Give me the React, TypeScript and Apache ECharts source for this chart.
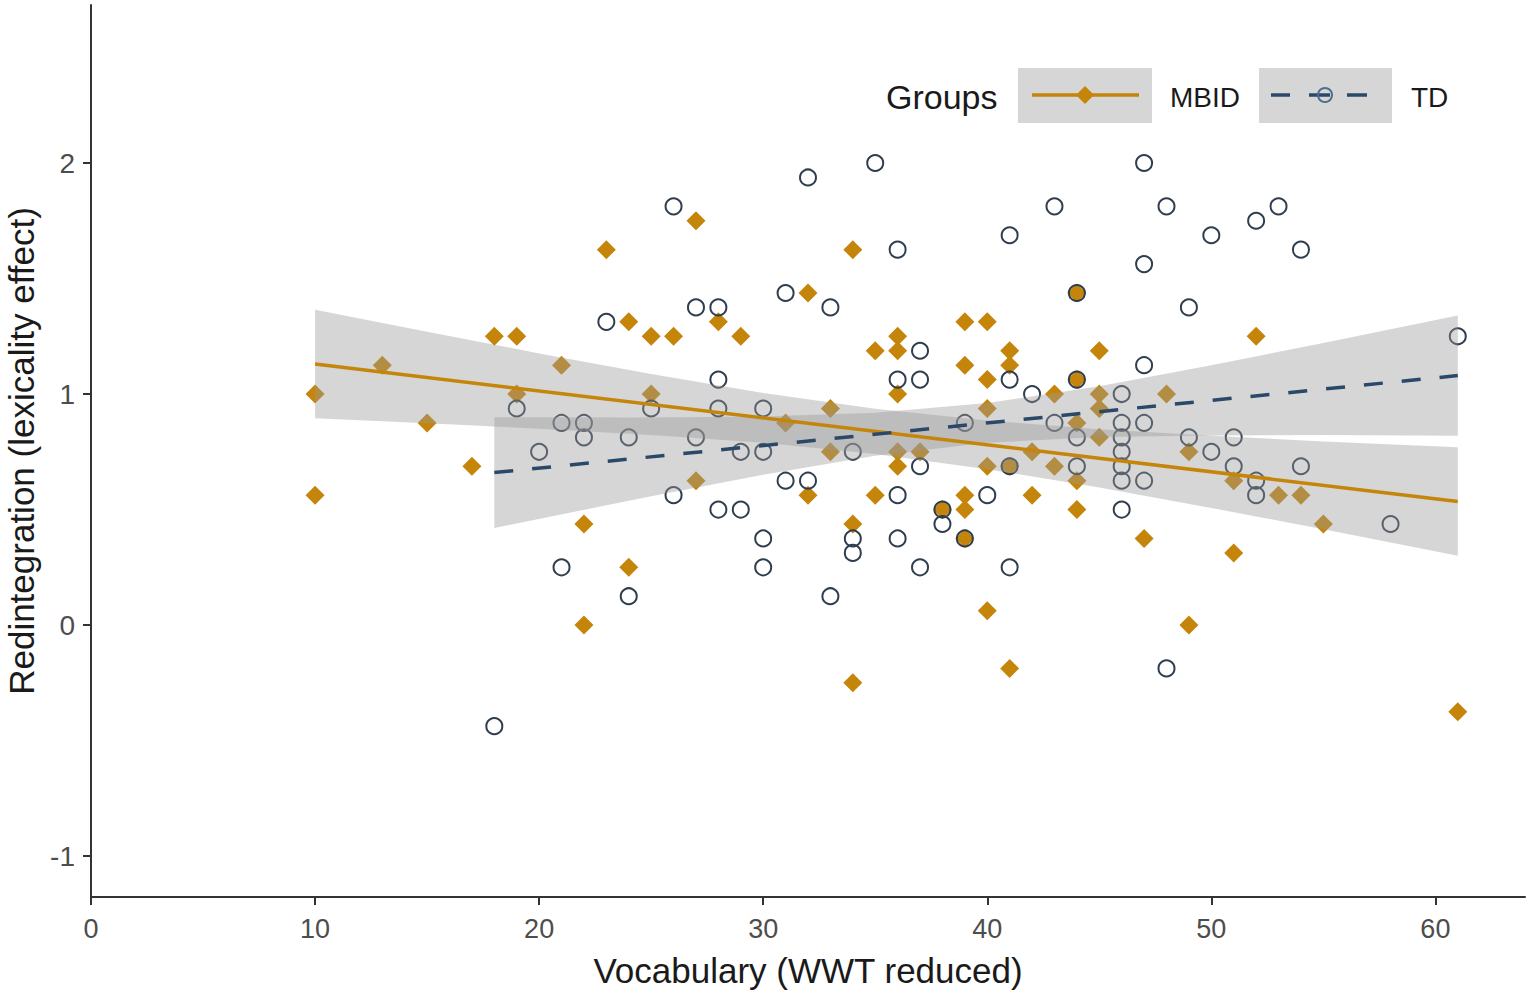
import React, { useEffect, useRef } from "react";
import * as echarts from "echarts";

// ---- Data ----
const mbidPoints: [number, number][] = [
  [10, 1.0], [10, 0.5625], [13, 1.125], [15, 0.875], [17, 0.6875], [18, 1.25], [19, 1.25], [19, 1.0],
  [21, 1.125], [22, 0.4375], [22, 0.0], [23, 1.625], [24, 1.3125], [24, 0.25], [25, 1.25], [25, 1.0],
  [26, 1.25], [27, 1.75], [27, 0.625], [28, 1.3125], [29, 1.25], [31, 0.875], [32, 1.4375], [32, 0.5625],
  [33, 0.9375], [33, 0.75], [34, 1.625], [34, 0.4375], [34, -0.25], [35, 1.1875], [35, 0.5625],
  [36, 1.25], [36, 1.1875], [36, 1.0], [36, 0.75], [36, 0.6875], [37, 0.75], [38, 0.5],
  [39, 1.3125], [39, 1.125], [39, 0.5625], [39, 0.5], [39, 0.375], [40, 1.3125], [40, 1.0625],
  [40, 0.9375], [40, 0.6875], [40, 0.0625], [41, 1.1875], [41, 1.125], [41, 0.6875], [41, -0.1875],
  [42, 0.75], [42, 0.5625], [43, 1.0], [43, 0.6875], [44, 1.4375], [44, 1.0625], [44, 0.875],
  [44, 0.625], [44, 0.5], [45, 1.1875], [45, 1.0], [45, 0.9375], [45, 0.8125], [47, 0.375],
  [48, 1.0], [49, 0.75], [49, 0.0], [51, 0.625], [51, 0.3125], [52, 1.25], [53, 0.5625],
  [54, 0.5625], [55, 0.4375], [61, -0.375],
];

const tdPoints: [number, number][] = [
  [18, -0.4375], [19, 0.9375], [20, 0.75], [21, 0.875], [21, 0.25], [22, 0.875], [22, 0.8125],
  [23, 1.3125], [24, 0.8125], [24, 0.125], [25, 0.9375], [26, 1.8125], [26, 0.5625], [27, 1.375],
  [27, 0.8125], [28, 1.375], [28, 1.0625], [28, 0.9375], [28, 0.5], [29, 0.75], [29, 0.5],
  [30, 0.9375], [30, 0.75], [30, 0.375], [30, 0.25], [31, 1.4375], [31, 0.625], [32, 1.9375],
  [32, 0.625], [33, 1.375], [33, 0.125], [34, 0.75], [34, 0.375], [34, 0.3125], [35, 2.0],
  [36, 1.625], [36, 1.0625], [36, 0.5625], [36, 0.375], [37, 1.1875], [37, 1.0625], [37, 0.6875],
  [37, 0.25], [38, 0.5], [38, 0.4375], [39, 0.875], [39, 0.375], [40, 0.5625], [41, 1.6875],
  [41, 1.0625], [41, 0.6875], [41, 0.25], [42, 1.0], [43, 1.8125], [43, 0.875], [44, 1.4375],
  [44, 1.0625], [44, 0.8125], [44, 0.6875], [46, 1.0], [46, 0.875], [46, 0.8125], [46, 0.75],
  [46, 0.6875], [46, 0.625], [46, 0.5], [47, 2.0], [47, 1.5625], [47, 1.125], [47, 0.875],
  [47, 0.625], [48, 1.8125], [48, -0.1875], [49, 1.375], [49, 0.8125], [50, 1.6875], [50, 0.75],
  [51, 0.8125], [51, 0.6875], [52, 1.75], [52, 0.625], [52, 0.5625], [53, 1.8125], [54, 1.625],
  [54, 0.6875], [58, 0.4375], [61, 1.25],
];

// regression lines
const mbidFitX = [10, 61];
const mbidFitY = [1.13, 0.535];
const tdFitX = [18, 61];
const tdFitY = [0.66, 1.08];

// confidence bands
const mbidBandX = [10, 15, 20, 25, 30, 35, 40, 45, 50, 55, 61];
const mbidBandLow = [0.895, 0.874, 0.85, 0.823, 0.789, 0.74, 0.675, 0.596, 0.507, 0.415, 0.3];
const mbidBandHigh = [1.365, 1.27, 1.176, 1.087, 1.005, 0.936, 0.885, 0.848, 0.819, 0.795, 0.77];
const tdBandX = [18, 25, 30, 35, 40, 45, 50, 55, 61];
const tdBandLow = [0.42, 0.558, 0.651, 0.733, 0.789, 0.814, 0.821, 0.823, 0.82];
const tdBandHigh = [0.9, 0.898, 0.903, 0.919, 0.961, 1.034, 1.125, 1.221, 1.34];

const xTicks = [0, 10, 20, 30, 40, 50, 60];
const yTicks = [-1, 0, 1, 2];

const ORANGE = "#C4850A";
const BLUE = "#2A4868";
const CIRCLE = "#2F3E4E";
const BAND = "rgba(153,153,153,0.4)";
const FONT = "Liberation Sans, Arial, sans-serif";

function bandSeries(xs: number[], lo: number[], hi: number[]) {
  return {
    type: "custom",
    z: 3,
    silent: true,
    data: [[xs[0], lo[0]]],
    renderItem: (_params: any, api: any) => {
      const pts: number[][] = [];
      for (let i = 0; i < xs.length; i++) pts.push(api.coord([xs[i], hi[i]]));
      for (let i = xs.length - 1; i >= 0; i--) pts.push(api.coord([xs[i], lo[i]]));
      return { type: "polygon", shape: { points: pts }, style: { fill: BAND } };
    },
  };
}

export default function App() {
  const ref = useRef<HTMLDivElement>(null);
  useEffect(() => {
    if (!ref.current) return;
    const chart = echarts.init(ref.current, null, { renderer: "svg" });
    const axisLine = { show: true, onZero: false, lineStyle: { color: "#333333", width: 2 } };
    chart.setOption({
      animation: false,
      backgroundColor: "#ffffff",
      grid: { left: 91, right: 10, top: 5, bottom: 103, containLabel: false, outerBoundsMode: "none" },
      xAxis: {
        type: "value",
        min: 0,
        max: 64,
        axisLine,
        splitLine: { show: false },
        axisTick: { show: true, length: 8, customValues: xTicks, lineStyle: { color: "#333333", width: 2 } },
        axisLabel: { customValues: xTicks, fontSize: 27, color: "#4D4D4D", margin: 18, fontFamily: FONT },
        name: "Vocabulary (WWT reduced)",
        nameLocation: "middle",
        nameGap: 56,
        nameTextStyle: { fontSize: 35, color: "#1A1A1A", fontFamily: FONT },
      },
      yAxis: {
        type: "value",
        min: -1.177,
        max: 2.684,
        axisLine,
        splitLine: { show: false },
        axisTick: { show: true, length: 8, customValues: yTicks, lineStyle: { color: "#333333", width: 2 } },
        axisLabel: { customValues: yTicks, fontSize: 28, color: "#4D4D4D", margin: 16, fontFamily: FONT },
        name: "Redintegration (lexicality effect)",
        nameLocation: "middle",
        nameRotate: 90,
        nameGap: 52,
        nameTextStyle: { fontSize: 35, color: "#1A1A1A", fontFamily: FONT },
      },
      series: [
        {
          type: "scatter",
          name: "MBID",
          z: 2,
          symbol: "diamond",
          symbolSize: 19,
          itemStyle: { color: ORANGE, opacity: 1 },
          data: mbidPoints,
          silent: true,
        },
        {
          type: "scatter",
          name: "TD",
          z: 2,
          symbol: "circle",
          symbolSize: 16,
          itemStyle: { color: "rgba(0,0,0,0)", borderColor: CIRCLE, borderWidth: 2, opacity: 1 },
          data: tdPoints,
          silent: true,
        },
        bandSeries(mbidBandX, mbidBandLow, mbidBandHigh),
        bandSeries(tdBandX, tdBandLow, tdBandHigh),
        {
          type: "line",
          z: 4,
          symbol: "none",
          silent: true,
          lineStyle: { color: ORANGE, width: 3.5 },
          data: mbidFitX.map((x, i) => [x, mbidFitY[i]]),
        },
        {
          type: "line",
          z: 4,
          symbol: "none",
          silent: true,
          lineStyle: { color: BLUE, width: 3.5, type: [19, 19] },
          data: tdFitX.map((x, i) => [x, tdFitY[i]]),
        },
      ],
      graphic: [
        { type: "text", left: 886, top: 80, style: { text: "Groups", fontSize: 34, fill: "#1A1A1A", fontFamily: FONT } },
        { type: "rect", shape: { x: 1018, y: 68, width: 134, height: 55 }, style: { fill: "#D6D6D6" } },
        { type: "line", shape: { x1: 1032, y1: 95, x2: 1139, y2: 95 }, style: { stroke: ORANGE, lineWidth: 3.5 } },
        { type: "polygon", shape: { points: [[1085, 86], [1094, 95], [1085, 104], [1076, 95]] }, style: { fill: ORANGE } },
        { type: "text", left: 1170, top: 83, style: { text: "MBID", fontSize: 28, fill: "#1A1A1A", fontFamily: FONT } },
        { type: "rect", shape: { x: 1259, y: 68, width: 133, height: 55 }, style: { fill: "#D6D6D6" } },
        { type: "line", shape: { x1: 1271, y1: 95, x2: 1290, y2: 95 }, style: { stroke: BLUE, lineWidth: 3.5 } },
        { type: "line", shape: { x1: 1309, y1: 95, x2: 1330, y2: 95 }, style: { stroke: BLUE, lineWidth: 3.5 } },
        { type: "line", shape: { x1: 1347, y1: 95, x2: 1367, y2: 95 }, style: { stroke: BLUE, lineWidth: 3.5 } },
        { type: "circle", shape: { cx: 1325, cy: 95, r: 7 }, style: { fill: "none", stroke: "#4E6E8E", lineWidth: 2 } },
        { type: "text", left: 1411, top: 83, style: { text: "TD", fontSize: 28, fill: "#1A1A1A", fontFamily: FONT } },
      ],
    });
    return () => chart.dispose();
  }, []);
  return (
    <div
      ref={ref}
      style={{ position: "absolute", left: 0, top: 0, width: 1535, height: 1000, background: "#fff" }}
    />
  );
}
